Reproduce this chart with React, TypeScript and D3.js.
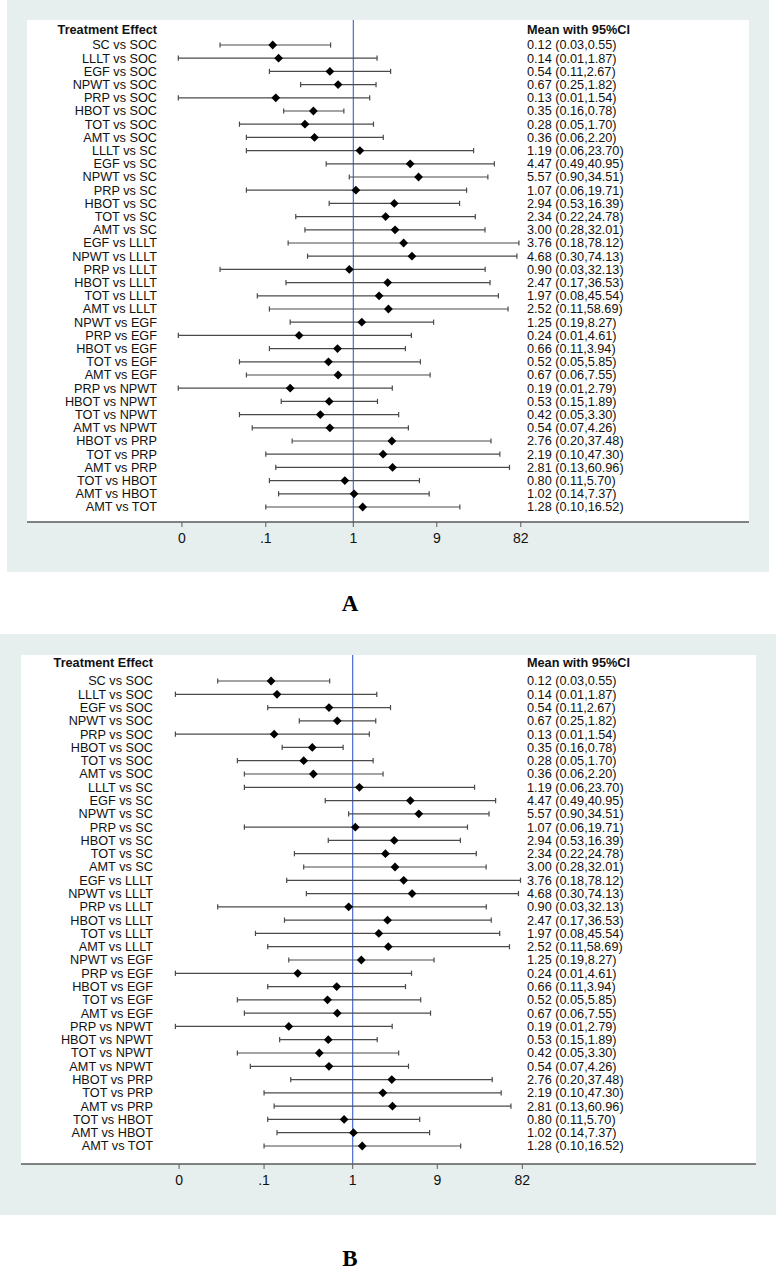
import React from "react";
import * as d3 from "d3";

const comparisons = [
  "SC vs SOC", "LLLT vs SOC", "EGF vs SOC", "NPWT vs SOC", "PRP vs SOC", "HBOT vs SOC", "TOT vs SOC", "AMT vs SOC",
  "LLLT vs SC", "EGF vs SC", "NPWT vs SC", "PRP vs SC", "HBOT vs SC", "TOT vs SC", "AMT vs SC",
  "EGF vs LLLT", "NPWT vs LLLT", "PRP vs LLLT", "HBOT vs LLLT", "TOT vs LLLT", "AMT vs LLLT",
  "NPWT vs EGF", "PRP vs EGF", "HBOT vs EGF", "TOT vs EGF", "AMT vs EGF",
  "PRP vs NPWT", "HBOT vs NPWT", "TOT vs NPWT", "AMT vs NPWT",
  "HBOT vs PRP", "TOT vs PRP", "AMT vs PRP",
  "TOT vs HBOT", "AMT vs HBOT",
  "AMT vs TOT",
];

const means = [
  0.12, 0.14, 0.54, 0.67, 0.13, 0.35, 0.28, 0.36,
  1.19, 4.47, 5.57, 1.07, 2.94, 2.34, 3.0,
  3.76, 4.68, 0.9, 2.47, 1.97, 2.52,
  1.25, 0.24, 0.66, 0.52, 0.67,
  0.19, 0.53, 0.42, 0.54,
  2.76, 2.19, 2.81,
  0.8, 1.02,
  1.28,
];

const lowers = [
  0.03, 0.01, 0.11, 0.25, 0.01, 0.16, 0.05, 0.06,
  0.06, 0.49, 0.9, 0.06, 0.53, 0.22, 0.28,
  0.18, 0.3, 0.03, 0.17, 0.08, 0.11,
  0.19, 0.01, 0.11, 0.05, 0.06,
  0.01, 0.15, 0.05, 0.07,
  0.2, 0.1, 0.13,
  0.11, 0.14,
  0.1,
];

const uppers = [
  0.55, 1.87, 2.67, 1.82, 1.54, 0.78, 1.7, 2.2,
  23.7, 40.95, 34.51, 19.71, 16.39, 24.78, 32.01,
  78.12, 74.13, 32.13, 36.53, 45.54, 58.69,
  8.27, 4.61, 3.94, 5.85, 7.55,
  2.79, 1.89, 3.3, 4.26,
  37.48, 47.3, 60.96,
  5.7, 7.37,
  16.52,
];

const tickValues = [0.011, 0.1, 1, 9, 82];
const tickLabels = ["0", ".1", "1", "9", "82"];

const panelLetters = ["A", "B"];

const FONT = "'Liberation Sans', Arial, Helvetica, sans-serif";
const FS = 12.7;
const BG = "#e7eeee";
const CI_COLOR = "#4a4a4a";
const REF_COLOR = "#3a5fcd";

type PanelGeom = {
  bgX: number; bgY: number; bgW: number; bgH: number;
  plotX: number; plotY: number; plotW: number; axisY: number;
  headerY: number; row0: number; rowN: number;
  oneX: number; pxPerLn: number;
  labelRight: number; rightCol: number;
  letterX: number; letterY: number;
};

const geoms: PanelGeom[] = [
  {
    bgX: 7, bgY: 0, bgW: 762, bgH: 572,
    plotX: 27, plotY: 20, plotW: 722, axisY: 522,
    headerY: 30, row0: 45, rowN: 507,
    oneX: 353.3, pxPerLn: 38,
    labelRight: 157, rightCol: 527,
    letterX: 350, letterY: 611,
  },
  {
    bgX: 0, bgY: 634, bgW: 776, bgH: 581,
    plotX: 21, plotY: 655, plotW: 735, axisY: 1164,
    headerY: 663, row0: 681, rowN: 1146,
    oneX: 352.7, pxPerLn: 38.5,
    labelRight: 153, rightCol: 527,
    letterX: 350, letterY: 1266,
  },
];

const fmt = (v: number) => v.toFixed(2);

function Panel({ g, letter }: { g: PanelGeom; letter: string }) {
  const lnSpan = Math.log(100);
  const x = d3
    .scaleLog()
    .domain([0.01, 100])
    .range([g.oneX - lnSpan * g.pxPerLn, g.oneX + lnSpan * g.pxPerLn]);
  const y = d3
    .scalePoint<string>()
    .domain(comparisons)
    .range([g.row0, g.rowN]);
  const cap = 2.6;
  const d = 4.4;
  return (
    <g>
      <rect x={g.bgX} y={g.bgY} width={g.bgW} height={g.bgH} fill={BG} />
      <rect x={g.plotX} y={g.plotY} width={g.plotW} height={g.axisY - g.plotY} fill="#ffffff" />
      <line x1={x(1)} x2={x(1)} y1={g.plotY} y2={g.axisY} stroke={REF_COLOR} strokeWidth={1.1} />
      <text x={g.labelRight} y={g.headerY} dy="0.35em" textAnchor="end" fontFamily={FONT} fontSize={FS} fontWeight="bold" fill="#111">
        Treatment Effect
      </text>
      <text x={g.rightCol} y={g.headerY} dy="0.35em" textAnchor="start" fontFamily={FONT} fontSize={FS} fontWeight="bold" fill="#111">
        Mean with 95%CI
      </text>
      {comparisons.map((c, i) => {
        const yy = y(c) as number;
        const xl = x(lowers[i]);
        const xu = x(uppers[i]);
        const xm = x(means[i]);
        return (
          <g key={c}>
            <text x={g.labelRight} y={yy} dy="0.35em" textAnchor="end" fontFamily={FONT} fontSize={FS} fill="#111">
              {c}
            </text>
            <line x1={xl} x2={xu} y1={yy} y2={yy} stroke={CI_COLOR} strokeWidth={1.2} />
            <line x1={xl} x2={xl} y1={yy - cap} y2={yy + cap} stroke={CI_COLOR} strokeWidth={1.2} />
            <line x1={xu} x2={xu} y1={yy - cap} y2={yy + cap} stroke={CI_COLOR} strokeWidth={1.2} />
            <path
              d={`M${xm},${yy - d}L${xm + d},${yy}L${xm},${yy + d}L${xm - d},${yy}Z`}
              fill="#000"
            />
            <text x={g.rightCol} y={yy} dy="0.35em" textAnchor="start" fontFamily={FONT} fontSize={FS} fill="#111">
              {`${fmt(means[i])} (${fmt(lowers[i])},${fmt(uppers[i])})`}
            </text>
          </g>
        );
      })}
      <line x1={g.plotX} x2={g.plotX + g.plotW} y1={g.axisY} y2={g.axisY} stroke="#5a5a5a" strokeWidth={1.3} />
      {tickValues.map((t, i) => (
        <g key={t}>
          <line x1={x(t)} x2={x(t)} y1={g.axisY} y2={g.axisY + 5} stroke="#5a5a5a" strokeWidth={1} />
          <text x={x(t)} y={g.axisY + 16} dy="0.35em" textAnchor="middle" fontFamily={FONT} fontSize={14} fill="#111">
            {tickLabels[i]}
          </text>
        </g>
      ))}
      <text x={g.letterX} y={g.letterY} textAnchor="middle" fontFamily="'Liberation Serif', 'Times New Roman', serif" fontSize={23} fontWeight="bold" fill="#000">
        {letter}
      </text>
    </g>
  );
}

export default function App() {
  return (
    <svg
      width={776}
      height={1270}
      viewBox="0 0 776 1270"
      style={{ position: "absolute", left: 0, top: 0, background: "#fff" }}
    >
      <rect x={0} y={0} width={776} height={1270} fill="#fff" />
      {geoms.map((g, i) => (
        <Panel key={i} g={g} letter={panelLetters[i]} />
      ))}
    </svg>
  );
}
